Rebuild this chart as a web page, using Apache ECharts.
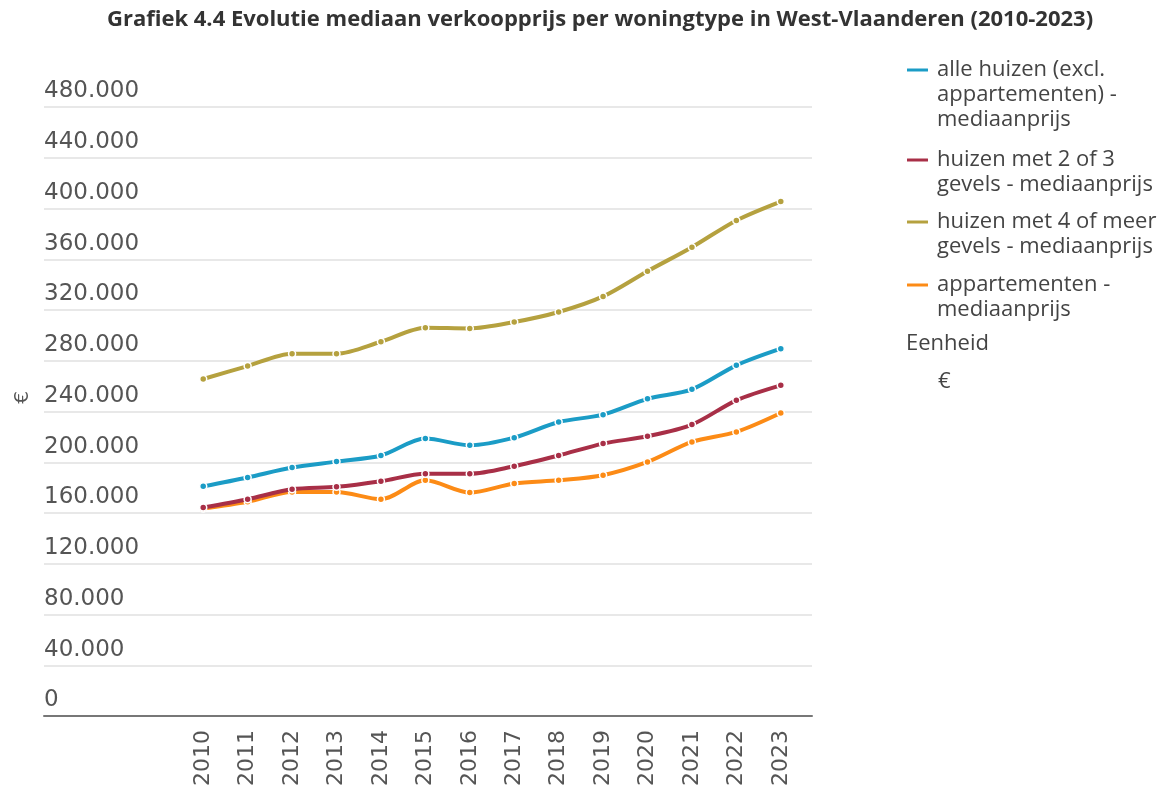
<!DOCTYPE html>
<html>
<head>
<meta charset="utf-8">
<script src="https://cdn.jsdelivr.net/npm/echarts@6/dist/echarts.min.js"></script>
<style>
html,body{margin:0;padding:0;background:#fff}
#main{width:1167px;height:789px}
</style>
</head>
<body>
<div id="main"></div>
<script>
// gegevens
var jaren = ['2010','2011','2012','2013','2014','2015','2016','2017','2018','2019','2020','2021','2022','2023'];
var alleHuizen = [181000,188000,195800,200500,205300,218700,213400,219400,231700,237500,250000,257500,276400,289500];
var huizen23Gevels = [164300,170900,178700,180600,185000,191000,191000,196900,205300,214700,220500,229700,248800,260600];
var huizen4Gevels = [265600,275800,285600,285600,295000,306000,305500,310500,318400,330700,350600,369500,390600,405500];
var appartementen = [163500,168800,176600,176600,170900,185800,176100,183200,185800,189800,200200,216000,223900,238800];
var yMin = 0, yMax = 480000, yStap = 40000;

var namen = [
  'alle huizen (excl. appartementen) - mediaanprijs',
  'huizen met 2 of 3 gevels - mediaanprijs',
  'huizen met 4 of meer gevels - mediaanprijs',
  'appartementen - mediaanprijs'
];
var legendeTekst = [
  'alle huizen (excl.\nappartementen) -\nmediaanprijs',
  'huizen met 2 of 3\ngevels - mediaanprijs',
  'huizen met 4 of meer\ngevels - mediaanprijs',
  'appartementen -\nmediaanprijs'
];
var kleuren = ['#1b9cc6', '#a82f47', '#b5a13f', '#fc8b16'];
var reeksen = [alleHuizen, huizen23Gevels, huizen4Gevels, appartementen];

function punt(v) {
  return String(v).replace(/\B(?=(\d{3})+(?!\d))/g, '.');
}

var myChart = echarts.init(document.getElementById('main'));

// legende: één component per reeks; lege regels vooraan zodat het icoon
// naast de eerste tekstregel staat
var lh = 25;
var iconY = [70, 160, 222, 285];
var legends = namen.map(function (n, i) {
  var regels = legendeTekst[i].split('\n').length;
  var leeg = new Array(regels).join('\n');
  return {
    data: [n],
    orient: 'vertical',
    left: 900,
    top: iconY[i] - (2 * regels - 1) * lh / 2 - 5,
    icon: 'roundRect',
    itemWidth: 23,
    itemHeight: 5,
    itemGap: 0,
    selectedMode: false,
    formatter: function () { return leeg + legendeTekst[i]; },
    textStyle: {
      fontFamily: 'Open Sans',
      fontSize: 22,
      color: '#444',
      lineHeight: lh,
      padding: [0, 0, 0, 3]
    }
  };
});

var option = {
  backgroundColor: '#fff',
  animation: false,
  title: {
    text: 'Grafiek 4.4 Evolutie mediaan verkoopprijs per woningtype in West-Vlaanderen (2010-2023)',
    left: 102,
    top: 4,
    textStyle: {
      fontFamily: 'Open Sans',
      fontSize: 22,
      fontWeight: 'bold',
      color: '#333'
    }
  },
  legend: legends,
  graphic: [
    {type: 'text', left: 906, top: 333, style: {text: 'Eenheid', font: '22px "Open Sans"', fill: '#444'}},
    {type: 'text', left: 938, top: 371, style: {text: '€', font: '22px "Open Sans"', fill: '#444'}}
  ],
  grid: [
    {left: 44, right: 355, top: 107, bottom: 73},
    {left: 181, right: 364, top: 107, bottom: 73}
  ],
  xAxis: [
    {
      gridIndex: 0,
      type: 'value',
      min: 0,
      max: 1,
      axisLine: {show: true, lineStyle: {color: '#777', width: 2}},
      axisTick: {show: false},
      axisLabel: {show: false},
      splitLine: {show: false}
    },
    {
      gridIndex: 1,
      type: 'category',
      data: jaren,
      boundaryGap: true,
      axisLine: {show: false},
      axisTick: {show: false},
      axisLabel: {
        rotate: 90,
        margin: 14,
        interval: 0,
        fontFamily: 'DejaVu Sans',
        fontSize: 22,
        color: '#555'
      }
    }
  ],
  yAxis: [
    {
      gridIndex: 0,
      type: 'value',
      min: yMin,
      max: yMax,
      interval: yStap,
      name: '€',
      nameLocation: 'middle',
      nameRotate: 90,
      nameGap: 8,
      nameTextStyle: {fontFamily: 'DejaVu Sans', fontSize: 20, color: '#555', padding: [0, 0, 0, 28]},
      axisLine: {show: false},
      axisTick: {show: false},
      axisLabel: {
        inside: true,
        margin: 0,
        align: 'left',
        verticalAlign: 'bottom',
        padding: [0, 0, 4, 0],
        fontFamily: 'DejaVu Sans',
        fontSize: 23,
        color: '#555',
        formatter: function (v) { return punt(v); }
      },
      splitLine: {show: true, lineStyle: {color: '#e8e8e8', width: 2}}
    },
    {
      gridIndex: 1,
      type: 'value',
      min: yMin,
      max: yMax,
      interval: yStap,
      show: false,
      splitLine: {show: false}
    }
  ],
  series: reeksen.map(function (d, i) {
    return {
      name: namen[i],
      type: 'line',
      xAxisIndex: 1,
      yAxisIndex: 1,
      data: d,
      z: i === 3 ? 1 : 2 + i,
      smooth: 0.3,
      symbol: 'circle',
      symbolSize: 7,
      showSymbol: true,
      color: kleuren[i],
      lineStyle: {width: 4, color: kleuren[i]},
      itemStyle: {color: kleuren[i], borderColor: '#fff', borderWidth: 1.5}
    };
  })
};
myChart.setOption(option);
</script>
</body>
</html>
